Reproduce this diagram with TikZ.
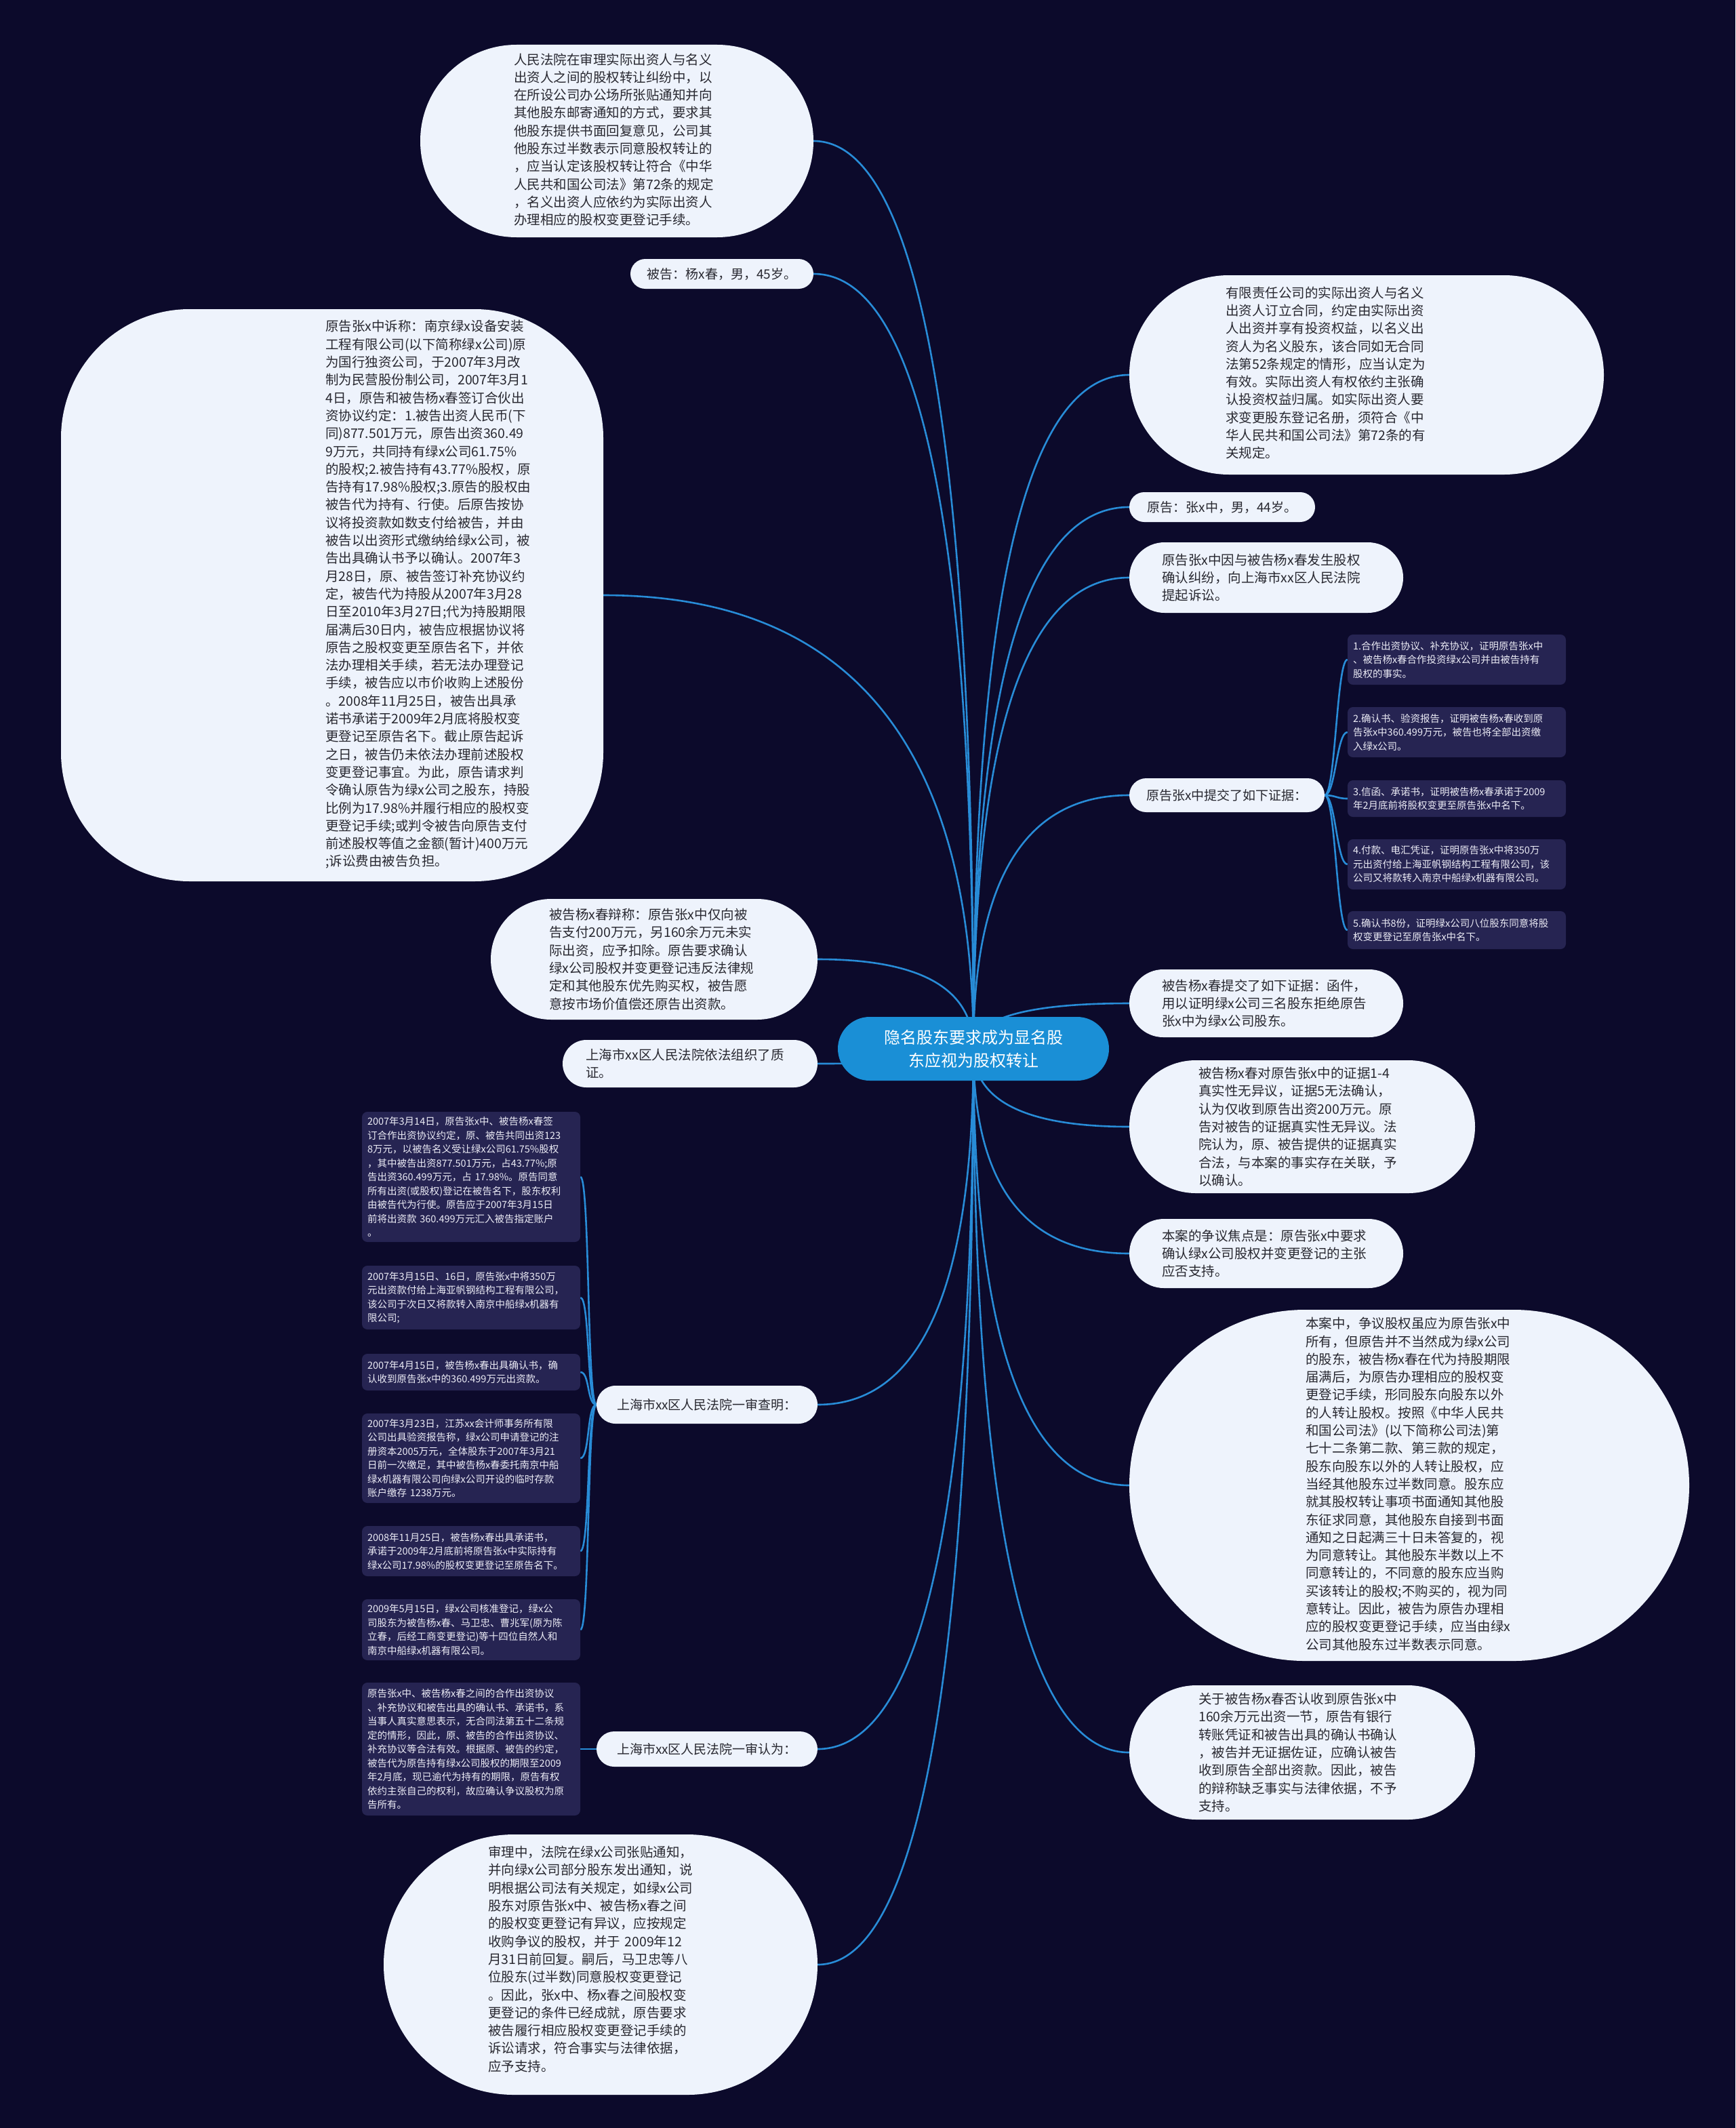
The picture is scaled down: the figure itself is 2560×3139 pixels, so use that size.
\documentclass[tikz,border=0pt]{standalone}
\usepackage{fontspec}
\setmainfont{Noto Sans CJK SC}
\usetikzlibrary{calc,backgrounds}
\definecolor{bg}{RGB}{12,10,43}
\definecolor{lnkc}{RGB}{40,140,215}
\definecolor{bub}{RGB}{238,243,252}
\definecolor{txt}{RGB}{40,40,48}
\definecolor{dbox}{RGB}{38,36,82}
\definecolor{ctr}{RGB}{26,143,214}
\tikzset{
  lnk/.style={draw=lnkc, line width=2.6pt},
  bubble/.style={fill=bub, draw=none, inner sep=0pt},
  btext/.style={text=txt, font=\fontsize{19.5}{26.3}\selectfont, align=left, inner sep=0pt, anchor=west},
  pill/.style={fill=bub, draw=none, inner sep=0pt, text=txt, font=\fontsize{19}{24}\selectfont},
  dark/.style={fill=dbox, rounded corners=8pt, text={rgb,255:red,236;green,236;blue,246}, font=\fontsize{14.5}{20.5}\selectfont, align=left, inner xsep=8pt, inner ysep=0pt, text width=306pt, minimum width=322pt},
  centre/.style={fill=ctr, draw=none, text=white, font=\fontsize{24}{34}\selectfont, align=center, inner sep=0pt, minimum width=400pt, minimum height=94pt, rounded corners=47pt}
}
\newcommand\hublink[1]{\draw[lnk] (C.center) .. controls ($(C.center)!0.667!(C.center|-#1)$) and ($(#1)!0.667!(C.center|-#1)$) .. (#1);}
\newcommand\leftbr[2]{\draw[lnk] (#1) .. controls +(-14,0) and +(14,0) .. (#2);}
\newcommand\rightbr[2]{\draw[lnk] (#1) .. controls +(16,0) and +(-16,0) .. (#2);}
\begin{document}
\begin{tikzpicture}[x=1pt,y=-1pt]
\useasboundingbox (0,0) rectangle (2560,3139);

% centre
\node[centre] (C) at (1436,1547) {隐名股东要求成为显名股\\东应视为股权转让};

% ---------- left side ----------
\node[bubble, minimum width=580pt, minimum height=284pt, rounded corners=142pt] (L1) at (910,208) {};
\node[btext, text width=300pt] (L1t) at (758,206) {人民法院在审理实际出资人与名义\\出资人之间的股权转让纠纷中，以\\在所设公司办公场所张贴通知并向\\其他股东邮寄通知的方式，要求其\\他股东提供书面回复意见，公司其\\他股东过半数表示同意股权转让的\\，应当认定该股权转让符合《中华\\人民共和国公司法》第72条的规定\\，名义出资人应依约为实际出资人\\办理相应的股权变更登记手续。};

\node[pill, minimum width=270pt, minimum height=44pt, rounded corners=22pt] (L2) at (1065,404) {被告：杨x春，男，45岁。};

\node[bubble, minimum width=800pt, minimum height=844pt, rounded corners=190pt] (L3) at (490,878) {};
\node[btext, text width=310pt] (L3t) at (480,877) {原告张x中诉称：南京绿x设备安装\\工程有限公司(以下简称绿x公司)原\\为国行独资公司，于2007年3月改\\制为民营股份制公司，2007年3月1\\4日，原告和被告杨x春签订合伙出\\资协议约定：1.被告出资人民币(下\\同)877.501万元，原告出资360.49\\9万元，共同持有绿x公司61.75\%\\的股权;2.被告持有43.77\%股权，原\\告持有17.98\%股权;3.原告的股权由\\被告代为持有、行使。后原告按协\\议将投资款如数支付给被告，并由\\被告以出资形式缴纳给绿x公司，被\\告出具确认书予以确认。2007年3\\月28日，原、被告签订补充协议约\\定，被告代为持股从2007年3月28\\日至2010年3月27日;代为持股期限\\届满后30日内，被告应根据协议将\\原告之股权变更至原告名下，并依\\法办理相关手续，若无法办理登记\\手续，被告应以市价收购上述股份\\。2008年11月25日，被告出具承\\诺书承诺于2009年2月底将股权变\\更登记至原告名下。截止原告起诉\\之日，被告仍未依法办理前述股权\\变更登记事宜。为此，原告请求判\\令确认原告为绿x公司之股东，持股\\比例为17.98\%并履行相应的股权变\\更登记手续;或判令被告向原告支付\\前述股权等值之金额(暂计)400万元\\;诉讼费由被告负担。};

\node[bubble, minimum width=482pt, minimum height=178pt, rounded corners=89pt] (L4) at (965,1415) {};
\node[btext, text width=310pt] (L4t) at (810,1415) {被告杨x春辩称：原告张x中仅向被\\告支付200万元，另160余万元未实\\际出资，应予扣除。原告要求确认\\绿x公司股权并变更登记违反法律规\\定和其他股东优先购买权，被告愿\\意按市场价值偿还原告出资款。};

\node[bubble, minimum width=376pt, minimum height=70pt, rounded corners=35pt] (L5) at (1018,1569) {};
\node[btext, text width=300pt] (L5t) at (864,1569) {上海市xx区人民法院依法组织了质\\证。};

\node[pill, minimum width=326pt, minimum height=56pt, rounded corners=28pt] (L6) at (1043,2072) {上海市xx区人民法院一审查明：};

\node[dark, minimum height=192pt] (c1) at (695,1736) {2007年3月14日，原告张x中、被告杨x春签\\订合作出资协议约定，原、被告共同出资123\\8万元，以被告名义受让绿x公司61.75\%股权\\，其中被告出资877.501万元，占43.77\%;原\\告出资360.499万元，占 17.98\%。原告同意\\所有出资(或股权)登记在被告名下，股东权利\\由被告代为行使。原告应于2007年3月15日\\前将出资款 360.499万元汇入被告指定账户\\。};
\node[dark, minimum height=94pt] (c2) at (695,1914) {2007年3月15日、16日，原告张x中将350万\\元出资款付给上海亚帆钢结构工程有限公司，\\该公司于次日又将款转入南京中船绿x机器有\\限公司;};
\node[dark, minimum height=54pt] (c3) at (695,2024) {2007年4月15日，被告杨x春出具确认书，确\\认收到原告张x中的360.499万元出资款。};
\node[dark, minimum height=132pt] (c4) at (695,2151) {2007年3月23日，江苏xx会计师事务所有限\\公司出具验资报告称，绿x公司申请登记的注\\册资本2005万元，全体股东于2007年3月21\\日前一次缴足，其中被告杨x春委托南京中船\\绿x机器有限公司向绿x公司开设的临时存款\\账户缴存 1238万元。};
\node[dark, minimum height=74pt] (c5) at (695,2288) {2008年11月25日，被告杨x春出具承诺书，\\承诺于2009年2月底前将原告张x中实际持有\\绿x公司17.98\%的股权变更登记至原告名下。};
\node[dark, minimum height=90pt] (c6) at (695,2404) {2009年5月15日，绿x公司核准登记，绿x公\\司股东为被告杨x春、马卫忠、曹兆军(原为陈\\立春，后经工商变更登记)等十四位自然人和\\南京中船绿x机器有限公司。};

\node[pill, minimum width=326pt, minimum height=52pt, rounded corners=26pt] (L7) at (1043,2580) {上海市xx区人民法院一审认为：};
\node[dark, minimum height=196pt] (c7) at (695,2580) {原告张x中、被告杨x春之间的合作出资协议\\、补充协议和被告出具的确认书、承诺书，系\\当事人真实意思表示，无合同法第五十二条规\\定的情形，因此，原、被告的合作出资协议、\\补充协议等合法有效。根据原、被告的约定，\\被告代为原告持有绿x公司股权的期限至2009\\年2月底，现已逾代为持有的期限，原告有权\\依约主张自己的权利，故应确认争议股权为原\\告所有。};

\node[bubble, minimum width=640pt, minimum height=384pt, rounded corners=192pt] (L8) at (886,2898) {};
\node[btext, text width=310pt] (L8t) at (720,2890) {审理中，法院在绿x公司张贴通知，\\并向绿x公司部分股东发出通知，说\\明根据公司法有关规定，如绿x公司\\股东对原告张x中、被告杨x春之间\\的股权变更登记有异议，应按规定\\收购争议的股权，并于 2009年12\\月31日前回复。嗣后，马卫忠等八\\位股东(过半数)同意股权变更登记\\。因此，张x中、杨x春之间股权变\\更登记的条件已经成就，原告要求\\被告履行相应股权变更登记手续的\\诉讼请求，符合事实与法律依据，\\应予支持。};

% ---------- right side ----------
\node[bubble, minimum width=700pt, minimum height=294pt, rounded corners=147pt] (R1) at (2016,553) {};
\node[btext, text width=310pt] (R1t) at (1808,550) {有限责任公司的实际出资人与名义\\出资人订立合同，约定由实际出资\\人出资并享有投资权益，以名义出\\资人为名义股东，该合同如无合同\\法第52条规定的情形，应当认定为\\有效。实际出资人有权依约主张确\\认投资权益归属。如实际出资人要\\求变更股东登记名册，须符合《中\\华人民共和国公司法》第72条的有\\关规定。};

\node[pill, minimum width=274pt, minimum height=44pt, rounded corners=22pt] (R2) at (1803,748) {原告：张x中，男，44岁。};

\node[bubble, minimum width=404pt, minimum height=104pt, rounded corners=52pt] (R3) at (1868,852) {};
\node[btext, text width=310pt] (R3t) at (1714,852) {原告张x中因与被告杨x春发生股权\\确认纠纷，向上海市xx区人民法院\\提起诉讼。};

\node[pill, minimum width=288pt, minimum height=50pt, rounded corners=25pt] (R4) at (1810,1173) {原告张x中提交了如下证据：};

\node[dark, minimum height=74pt] (e1) at (2149,973) {1.合作出资协议、补充协议，证明原告张x中\\、被告杨x春合作投资绿x公司并由被告持有\\股权的事实。};
\node[dark, minimum height=74pt] (e2) at (2149,1080) {2.确认书、验资报告，证明被告杨x春收到原\\告张x中360.499万元，被告也将全部出资缴\\入绿x公司。};
\node[dark, minimum height=54pt] (e3) at (2149,1178) {3.信函、承诺书，证明被告杨x春承诺于2009\\年2月底前将股权变更至原告张x中名下。};
\node[dark, minimum height=74pt] (e4) at (2149,1275) {4.付款、电汇凭证，证明原告张x中将350万\\元出资付给上海亚帆钢结构工程有限公司，该\\公司又将款转入南京中船绿x机器有限公司。};
\node[dark, minimum height=56pt] (e5) at (2149,1372) {5.确认书8份，证明绿x公司八位股东同意将股\\权变更登记至原告张x中名下。};

\node[bubble, minimum width=404pt, minimum height=100pt, rounded corners=50pt] (R5) at (1868,1480) {};
\node[btext, text width=310pt] (R5t) at (1714,1480) {被告杨x春提交了如下证据：函件，\\用以证明绿x公司三名股东拒绝原告\\张x中为绿x公司股东。};

\node[bubble, minimum width=510pt, minimum height=196pt, rounded corners=98pt] (R6) at (1921,1662) {};
\node[btext, text width=310pt] (R6t) at (1768,1662) {被告杨x春对原告张x中的证据1-4\\真实性无异议，证据5无法确认，\\认为仅收到原告出资200万元。原\\告对被告的证据真实性无异议。法\\院认为，原、被告提供的证据真实\\合法，与本案的事实存在关联，予\\以确认。};

\node[bubble, minimum width=404pt, minimum height=102pt, rounded corners=51pt] (R7) at (1868,1849) {};
\node[btext, text width=310pt] (R7t) at (1714,1849) {本案的争议焦点是：原告张x中要求\\确认绿x公司股权并变更登记的主张\\应否支持。};

\node[bubble, minimum width=826pt, minimum height=518pt, rounded corners=259pt] (R8) at (2079,2191) {};
\node[btext, text width=310pt] (R8t) at (1926,2189) {本案中，争议股权虽应为原告张x中\\所有，但原告并不当然成为绿x公司\\的股东，被告杨x春在代为持股期限\\届满后，为原告办理相应的股权变\\更登记手续，形同股东向股东以外\\的人转让股权。按照《中华人民共\\和国公司法》(以下简称公司法)第\\七十二条第二款、第三款的规定，\\股东向股东以外的人转让股权，应\\当经其他股东过半数同意。股东应\\就其股权转让事项书面通知其他股\\东征求同意，其他股东自接到书面\\通知之日起满三十日未答复的，视\\为同意转让。其他股东半数以上不\\同意转让的，不同意的股东应当购\\买该转让的股权;不购买的，视为同\\意转让。因此，被告为原告办理相\\应的股权变更登记手续，应当由绿x\\公司其他股东过半数表示同意。};

\node[bubble, minimum width=510pt, minimum height=198pt, rounded corners=99pt] (R9) at (1921,2585) {};
\node[btext, text width=310pt] (R9t) at (1768,2585) {关于被告杨x春否认收到原告张x中\\160余万元出资一节，原告有银行\\转账凭证和被告出具的确认书确认\\，被告并无证据佐证，应确认被告\\收到原告全部出资款。因此，被告\\的辩称缺乏事实与法律依据，不予\\支持。};

% ---------- background and connectors ----------
\begin{pgfonlayer}{background}
\fill[bg] (0,0) rectangle (2560,3139);
\hublink{L1.east}
\hublink{L2.east}
\hublink{L3.east}
\hublink{L4.east}
\hublink{L5.east}
\hublink{L6.east}
\hublink{L7.east}
\hublink{L8.east}
\hublink{R1.west}
\hublink{R2.west}
\hublink{R3.west}
\hublink{R4.west}
\hublink{R5.west}
\hublink{R6.west}
\hublink{R7.west}
\hublink{R8.west}
\hublink{R9.west}
\leftbr{L6.west}{c1.east}
\leftbr{L6.west}{c2.east}
\leftbr{L6.west}{c3.east}
\leftbr{L6.west}{c4.east}
\leftbr{L6.west}{c5.east}
\leftbr{L6.west}{c6.east}
\leftbr{L7.west}{c7.east}
\rightbr{R4.east}{e1.west}
\rightbr{R4.east}{e2.west}
\rightbr{R4.east}{e3.west}
\rightbr{R4.east}{e4.west}
\rightbr{R4.east}{e5.west}
\end{pgfonlayer}
\end{tikzpicture}
\end{document}
